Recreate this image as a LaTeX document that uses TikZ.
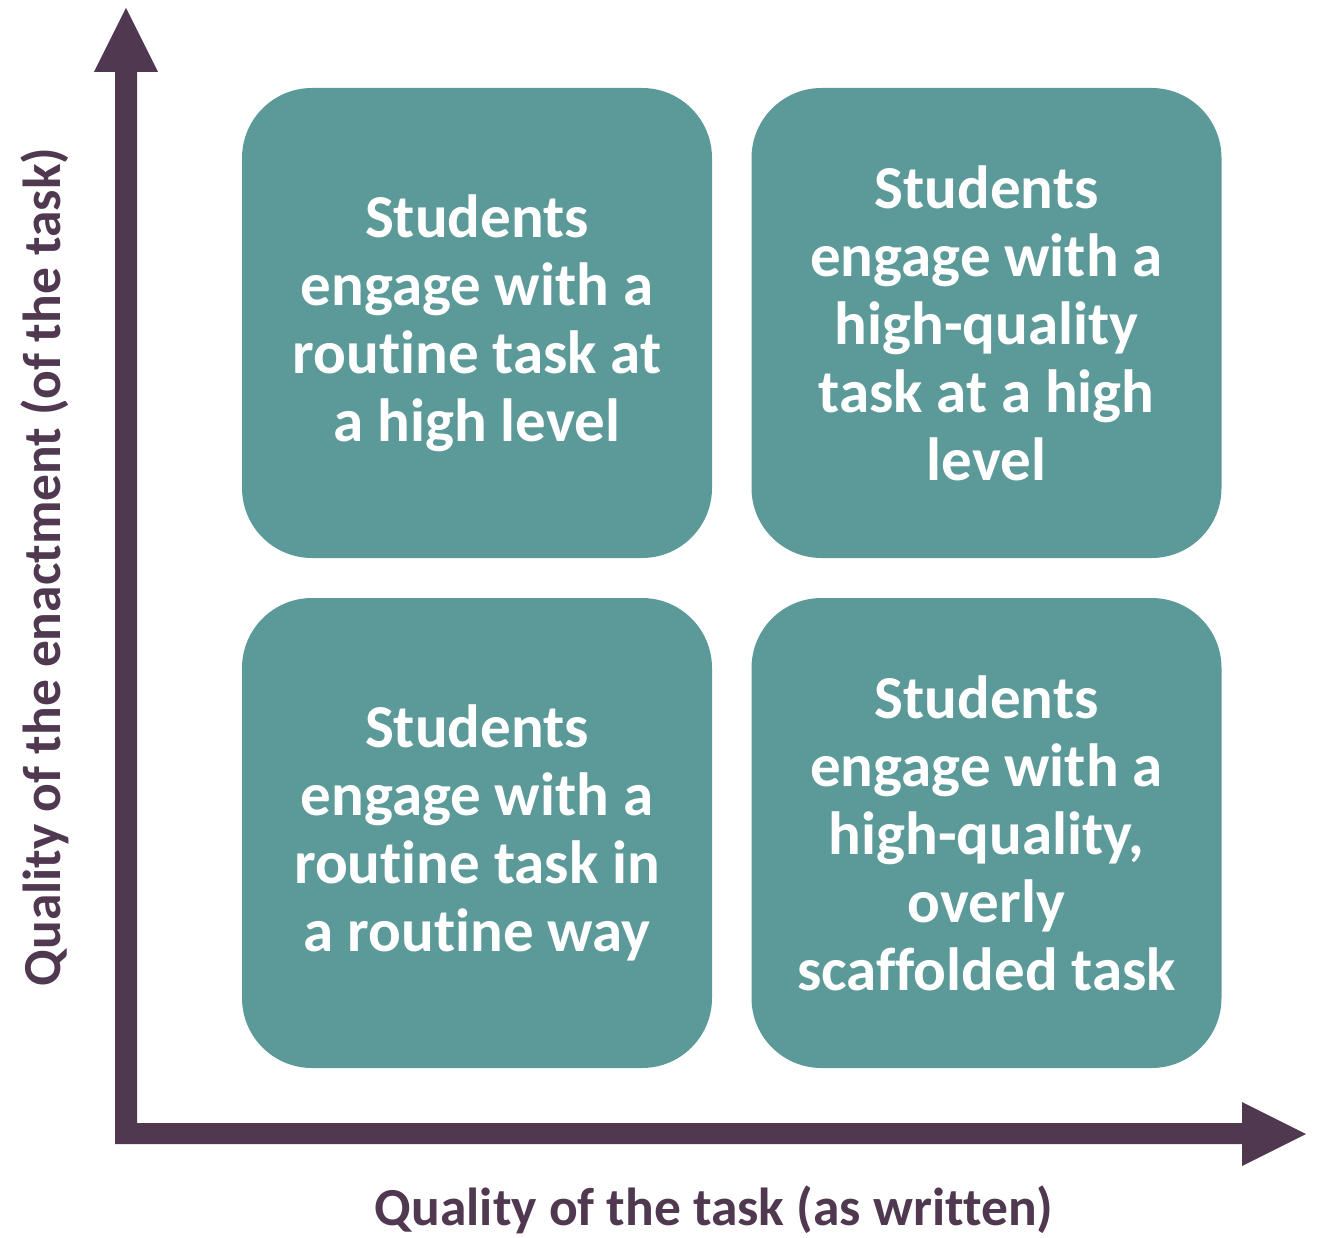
\documentclass[tikz,border=0pt]{standalone}
\usepackage{fontspec}
\setmainfont{Carlito}[Ligatures=NoCommon]
\definecolor{axispurple}{RGB}{80,57,80}
\definecolor{boxteal}{RGB}{91,154,152}
\begin{document}
\begin{tikzpicture}[x=1pt,y=-1pt,
  quad/.style={fill=boxteal, draw=none, rounded corners=70pt, minimum width=470pt, minimum height=470pt,
    text=white, align=center, font=\fontsize{61}{68}\selectfont\bfseries, inner sep=0pt},
  axislabel/.style={text=axispurple, font=\fontsize{53.5}{60}\selectfont\bfseries, inner sep=0pt}]
\useasboundingbox (0,0) rectangle (1319,1238);
% axes
\fill[axispurple] (115,1144) -- (115,72) -- (94,72) -- (126,8) -- (158,72) -- (137,72) -- (137,1123)
  -- (1242,1123) -- (1242,1102) -- (1306,1134) -- (1242,1166) -- (1242,1144) -- cycle;
% quadrants
\node[quad] (tl) at (477,323) {Students\\engage with a\\routine task at\\a high level};
\node[quad] (tr) at (986.5,323) {Students\\engage with a\\high-quality\\task at a high\\level};
\node[quad] (bl) at (477,833) {Students\\engage with a\\routine task in\\a routine way};
\node[quad] (br) at (986.5,833) {Students\\engage with a\\high-quality,\\overly\\scaffolded task};
% axis labels
\node[axislabel] (xlab) at (714,1210) {Quality of the task (as written)};
\node[axislabel, rotate=90] (ylab) at (45,567) {Quality of the enactment (of the task)};
\end{tikzpicture}
\end{document}
